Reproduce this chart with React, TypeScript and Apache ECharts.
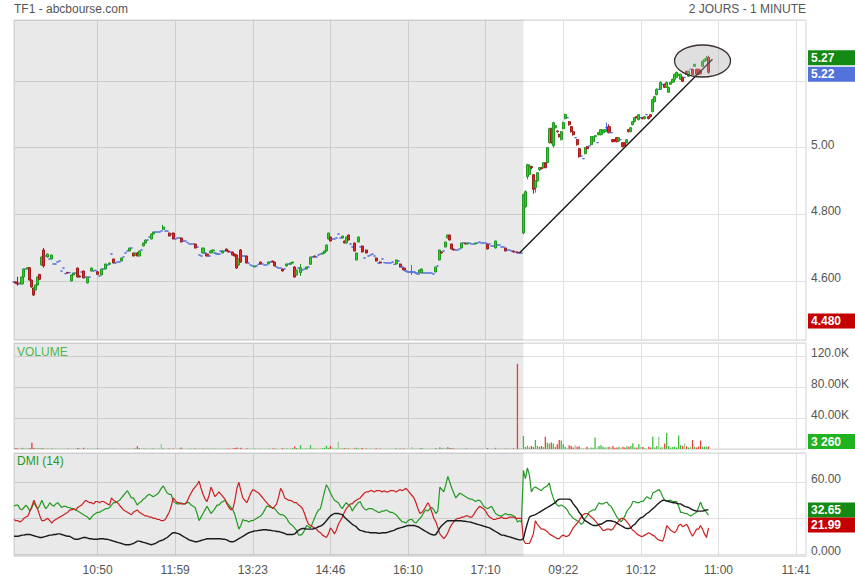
import React, { useEffect, useRef } from 'react';
import * as echarts from 'echarts';

// ---------- DATA ----------
// Candles: [open, close, low, high], one per minute bar. Day 1 = index 0..255, day 2 = 256..349
const day1Candles: number[][] = [
  // 0-9
  [4.597,4.597,4.597,4.597],[4.597,4.594,4.592,4.598],[4.594,4.591,4.586,4.613],[4.592,4.592,4.592,4.592],[4.591,4.612,4.590,4.613],
  [4.612,4.636,4.611,4.637],[4.636,4.636,4.636,4.636],[4.636,4.640,4.635,4.641],[4.640,4.603,4.602,4.641],[4.603,4.582,4.580,4.604],
  // 10-19
  [4.579,4.558,4.555,4.580],[4.573,4.588,4.572,4.589],[4.588,4.612,4.587,4.613],[4.620,4.605,4.604,4.621],[4.648,4.672,4.647,4.673],
  [4.693,4.645,4.640,4.699],[4.675,4.675,4.675,4.675],[4.672,4.681,4.671,4.682],[4.666,4.666,4.666,4.666],[4.666,4.678,4.665,4.679],
  // 20-29
  [4.651,4.651,4.651,4.651],[4.651,4.651,4.651,4.651],[4.657,4.657,4.657,4.657],[4.660,4.660,4.660,4.660],[4.630,4.630,4.630,4.630],
  [4.639,4.639,4.639,4.639],[4.622,4.622,4.622,4.622],[4.626,4.624,4.622,4.627],[4.625,4.625,4.625,4.625],[4.600,4.618,4.599,4.619],
  // 30-39
  [4.618,4.624,4.617,4.625],[4.624,4.624,4.624,4.624],[4.639,4.612,4.611,4.640],[4.615,4.612,4.611,4.616],[4.627,4.627,4.627,4.627],
  [4.630,4.609,4.608,4.631],[4.612,4.612,4.612,4.612],[4.594,4.612,4.593,4.613],[4.612,4.612,4.612,4.612],[4.630,4.639,4.629,4.640],
  // 40-49
  [4.630,4.630,4.630,4.630],[4.632,4.632,4.632,4.632],[4.628,4.620,4.619,4.629],[4.615,4.615,4.615,4.615],[4.618,4.636,4.617,4.637],
  [4.636,4.636,4.636,4.636],[4.636,4.651,4.635,4.652],[4.648,4.648,4.648,4.648],[4.650,4.654,4.649,4.655],[4.681,4.681,4.681,4.681],
  // 50-59
  [4.666,4.654,4.653,4.667],[4.654,4.654,4.654,4.654],[4.657,4.657,4.657,4.657],[4.657,4.657,4.657,4.657],[4.660,4.669,4.659,4.670],
  [4.672,4.672,4.672,4.672],[4.684,4.684,4.684,4.684],[4.690,4.690,4.690,4.690],[4.690,4.699,4.689,4.700],[4.699,4.699,4.699,4.699],
  // 60-69
  [4.684,4.675,4.674,4.685],[4.678,4.684,4.677,4.685],[4.684,4.675,4.674,4.687],[4.675,4.690,4.674,4.691],[4.693,4.693,4.693,4.693],
  [4.705,4.714,4.704,4.715],[4.714,4.723,4.713,4.724],[4.723,4.723,4.723,4.723],[4.732,4.732,4.732,4.732],[4.726,4.741,4.725,4.742],
  // 70-79
  [4.741,4.747,4.740,4.748],[4.747,4.747,4.747,4.747],[4.747,4.747,4.747,4.747],[4.747,4.747,4.747,4.747],[4.750,4.750,4.750,4.750],
  [4.755,4.762,4.754,4.768],[4.750,4.750,4.750,4.750],[4.750,4.750,4.750,4.750],[4.744,4.735,4.734,4.745],[4.741,4.741,4.741,4.741],
  // 80-89
  [4.744,4.726,4.725,4.745],[4.726,4.726,4.726,4.726],[4.729,4.729,4.729,4.729],[4.729,4.729,4.729,4.729],[4.729,4.717,4.716,4.730],
  [4.720,4.720,4.720,4.720],[4.720,4.720,4.720,4.720],[4.715,4.715,4.715,4.715],[4.711,4.711,4.711,4.711],[4.711,4.711,4.711,4.711],
  // 90-99
  [4.711,4.711,4.711,4.711],[4.711,4.699,4.698,4.712],[4.702,4.702,4.702,4.702],[4.678,4.678,4.678,4.678],[4.675,4.675,4.675,4.675],
  [4.684,4.699,4.683,4.700],[4.684,4.684,4.684,4.684],[4.681,4.675,4.674,4.682],[4.675,4.675,4.675,4.675],[4.684,4.690,4.683,4.691],
  // 100-109
  [4.690,4.693,4.689,4.694],[4.684,4.684,4.684,4.684],[4.681,4.681,4.681,4.681],[4.681,4.681,4.681,4.681],[4.690,4.690,4.690,4.690],
  [4.684,4.690,4.683,4.691],[4.690,4.690,4.690,4.690],[4.696,4.690,4.689,4.697],[4.690,4.687,4.686,4.691],[4.687,4.687,4.687,4.687],
  // 110-119
  [4.687,4.678,4.677,4.688],[4.681,4.675,4.674,4.682],[4.678,4.639,4.636,4.680],[4.648,4.666,4.645,4.667],[4.693,4.657,4.654,4.696],
  [4.675,4.675,4.675,4.675],[4.675,4.675,4.675,4.675],[4.675,4.654,4.653,4.676],[4.654,4.654,4.654,4.654],[4.648,4.648,4.648,4.648],
  // 120-129
  [4.645,4.645,4.645,4.645],[4.642,4.645,4.641,4.646],[4.645,4.645,4.645,4.645],[4.650,4.650,4.650,4.650],[4.657,4.651,4.650,4.658],
  [4.651,4.651,4.651,4.651],[4.648,4.648,4.648,4.648],[4.648,4.648,4.648,4.648],[4.651,4.657,4.650,4.658],[4.657,4.657,4.657,4.657],
  // 130-139
  [4.660,4.657,4.656,4.661],[4.657,4.645,4.644,4.658],[4.642,4.642,4.642,4.642],[4.639,4.639,4.639,4.639],[4.639,4.639,4.639,4.639],
  [4.636,4.630,4.629,4.637],[4.636,4.636,4.636,4.636],[4.645,4.651,4.644,4.652],[4.651,4.651,4.651,4.651],[4.650,4.654,4.649,4.655],
  // 140-149
  [4.654,4.657,4.653,4.658],[4.642,4.612,4.610,4.645],[4.618,4.633,4.617,4.634],[4.639,4.639,4.639,4.639],[4.625,4.640,4.615,4.651],
  [4.633,4.633,4.633,4.633],[4.636,4.636,4.636,4.636],[4.636,4.642,4.635,4.643],[4.642,4.642,4.642,4.642],[4.650,4.672,4.649,4.673],
  // 150-159
  [4.672,4.672,4.672,4.672],[4.675,4.672,4.671,4.676],[4.672,4.672,4.672,4.672],[4.678,4.678,4.678,4.678],[4.681,4.681,4.681,4.681],
  [4.681,4.684,4.680,4.685],[4.684,4.690,4.683,4.691],[4.690,4.708,4.689,4.709],[4.726,4.744,4.725,4.745],[4.732,4.720,4.719,4.733],
  // 160-169
  [4.726,4.726,4.726,4.726],[4.726,4.726,4.726,4.726],[4.729,4.729,4.729,4.729],[4.741,4.741,4.741,4.741],[4.729,4.729,4.729,4.729],
  [4.729,4.735,4.728,4.736],[4.720,4.714,4.713,4.721],[4.714,4.732,4.713,4.733],[4.738,4.723,4.722,4.739],[4.711,4.711,4.711,4.711],
  // 170-179
  [4.702,4.702,4.702,4.702],[4.714,4.690,4.689,4.715],[4.663,4.684,4.662,4.685],[4.717,4.732,4.716,4.733],[4.702,4.702,4.702,4.702],
  [4.705,4.687,4.686,4.706],[4.669,4.669,4.669,4.669],[4.693,4.684,4.683,4.694],[4.675,4.675,4.675,4.675],[4.678,4.678,4.678,4.678],
  // 180-189
  [4.681,4.681,4.681,4.681],[4.675,4.675,4.675,4.675],[4.669,4.660,4.659,4.670],[4.654,4.654,4.654,4.654],[4.657,4.654,4.653,4.658],
  [4.666,4.666,4.666,4.666],[4.655,4.655,4.655,4.655],[4.654,4.654,4.654,4.654],[4.654,4.654,4.654,4.654],[4.654,4.654,4.654,4.654],
  // 190-199
  [4.657,4.657,4.657,4.657],[4.650,4.650,4.650,4.650],[4.651,4.663,4.650,4.664],[4.660,4.660,4.660,4.660],[4.651,4.642,4.641,4.652],
  [4.642,4.642,4.642,4.642],[4.639,4.633,4.632,4.640],[4.630,4.630,4.630,4.630],[4.627,4.627,4.627,4.627],[4.627,4.627,4.627,4.627],
  // 200-209
  [4.627,4.627,4.618,4.648],[4.627,4.627,4.627,4.627],[4.624,4.624,4.624,4.624],[4.621,4.621,4.621,4.621],[4.624,4.633,4.623,4.634],
  [4.624,4.636,4.623,4.637],[4.624,4.624,4.624,4.624],[4.624,4.624,4.624,4.624],[4.624,4.624,4.624,4.624],[4.624,4.624,4.624,4.624],
  // 210-219
  [4.624,4.624,4.624,4.624],[4.621,4.621,4.621,4.621],[4.627,4.642,4.626,4.643],[4.645,4.645,4.645,4.645],[4.663,4.693,4.662,4.694],
  [4.687,4.684,4.683,4.688],[4.690,4.690,4.690,4.690],[4.702,4.717,4.701,4.718],[4.729,4.738,4.728,4.739],[4.738,4.723,4.722,4.739],
  // 220-229
  [4.711,4.696,4.695,4.712],[4.696,4.693,4.692,4.697],[4.693,4.693,4.693,4.693],[4.693,4.693,4.693,4.693],[4.696,4.696,4.696,4.696],
  [4.699,4.714,4.698,4.715],[4.714,4.714,4.714,4.714],[4.714,4.711,4.710,4.715],[4.711,4.714,4.710,4.715],[4.714,4.714,4.714,4.714],
  // 230-239
  [4.711,4.711,4.711,4.711],[4.711,4.711,4.711,4.711],[4.711,4.714,4.710,4.715],[4.714,4.714,4.714,4.714],[4.717,4.717,4.717,4.717],
  [4.714,4.714,4.714,4.714],[4.714,4.714,4.714,4.714],[4.714,4.714,4.714,4.714],[4.711,4.696,4.695,4.712],[4.711,4.711,4.711,4.711],
  // 240-249
  [4.705,4.705,4.705,4.705],[4.705,4.705,4.705,4.705],[4.699,4.720,4.698,4.721],[4.708,4.708,4.708,4.708],[4.708,4.708,4.708,4.708],
  [4.702,4.702,4.702,4.702],[4.702,4.702,4.702,4.702],[4.699,4.690,4.689,4.700],[4.693,4.693,4.693,4.693],[4.693,4.693,4.693,4.693],
  // 250-255
  [4.690,4.690,4.690,4.690],[4.690,4.687,4.686,4.691],[4.687,4.687,4.687,4.687],[4.687,4.684,4.683,4.688],[4.684,4.684,4.684,4.684],
  [4.684,4.684,4.684,4.684],
];

const day2Candles: number[][] = [
  // 256-265
  [4.744,4.859,4.740,4.862],[4.823,4.868,4.820,4.872],[4.913,4.949,4.905,4.952],[4.920,4.945,4.918,4.950],[4.943,4.940,4.935,4.946],
  [4.919,4.875,4.862,4.920],[4.880,4.900,4.865,4.902],[4.900,4.925,4.898,4.927],[4.934,4.940,4.930,4.942],[4.940,4.937,4.934,4.942],
  // 266-275
  [4.940,4.955,4.938,4.957],[4.955,4.940,4.938,4.957],[4.955,5.000,4.953,5.002],[5.015,5.057,5.012,5.060],[5.057,5.015,5.012,5.060],
  [5.006,5.075,5.000,5.078],[5.060,5.066,5.058,5.068],[5.050,5.048,5.045,5.052],[5.040,5.033,5.030,5.042],[5.024,5.048,5.022,5.050],
  // 276-285
  [5.057,5.075,5.055,5.078],[5.087,5.099,5.085,5.102],[5.090,5.090,5.090,5.090],[5.078,5.069,5.066,5.080],[5.063,5.048,5.045,5.065],
  [5.048,5.039,5.036,5.050],[5.030,5.030,5.030,5.030],[5.024,5.009,5.006,5.026],[4.997,4.973,4.970,4.999],[4.975,4.975,4.975,4.975],
  // 286-295
  [4.967,4.967,4.967,4.967],[4.982,5.000,4.980,5.002],[5.003,4.997,4.995,5.005],[5.005,5.005,5.005,5.005],[5.009,5.033,5.007,5.035],
  [5.018,5.033,5.016,5.035],[5.033,5.036,5.031,5.038],[5.015,5.015,5.015,5.015],[5.039,5.045,5.037,5.047],[5.039,5.054,5.037,5.056],
  // 296-305
  [5.045,5.051,5.043,5.053],[5.048,5.054,5.046,5.056],[5.060,5.060,5.052,5.075],[5.063,5.045,5.043,5.070],[5.045,5.045,5.045,5.045],
  [5.024,5.018,5.016,5.026],[5.024,5.020,5.018,5.026],[5.030,5.018,5.016,5.032],[5.020,5.030,5.018,5.032],[5.024,5.024,5.024,5.024],
  // 306-315
  [5.015,5.003,5.001,5.017],[5.015,5.006,5.004,5.017],[5.015,5.024,5.013,5.026],[5.054,5.048,5.046,5.056],[5.048,5.060,5.046,5.062],
  [5.069,5.078,5.067,5.080],[5.078,5.090,5.076,5.092],[5.093,5.090,5.088,5.095],[5.084,5.099,5.082,5.101],[5.090,5.090,5.090,5.090],
  // 316-325
  [5.090,5.087,5.085,5.092],[5.087,5.093,5.085,5.095],[5.099,5.099,5.099,5.099],[5.093,5.087,5.085,5.095],[5.099,5.093,5.091,5.101],
  [5.108,5.144,5.106,5.147],[5.138,5.153,5.136,5.156],[5.159,5.175,5.157,5.178],[5.175,5.175,5.175,5.175],[5.175,5.196,5.173,5.199],
  // 326-335
  [5.190,5.190,5.190,5.190],[5.190,5.181,5.179,5.192],[5.181,5.196,5.179,5.198],[5.166,5.181,5.164,5.183],[5.190,5.196,5.188,5.198],
  [5.196,5.205,5.194,5.207],[5.205,5.220,5.196,5.222],[5.211,5.226,5.209,5.228],[5.217,5.220,5.215,5.222],[5.205,5.220,5.203,5.222],
  // 336-345
  [5.211,5.199,5.197,5.213],[5.211,5.211,5.211,5.211],[5.229,5.220,5.218,5.231],[5.214,5.229,5.212,5.231],[5.235,5.235,5.235,5.235],
  [5.235,5.220,5.218,5.237],[5.244,5.250,5.242,5.252],[5.235,5.220,5.218,5.237],[5.235,5.220,5.218,5.237],[5.232,5.222,5.220,5.234],
  // 346-349
  [5.244,5.259,5.242,5.261],[5.259,5.265,5.257,5.267],[5.262,5.268,5.260,5.275],[5.271,5.226,5.222,5.276],
];

const volumesDay1: number[] = [
  900, 1200, 600, 400, 1500, 800, 500, 700, 1100, 8000, 1400, 600, 900, 500, 1200, 700,
  400, 600, 300, 900, 500, 1700, 400, 300, 800, 600, 200, 500, 700, 400, 300, 600,
  1300, 500, 400, 1600, 300, 500, 700, 400, 600, 300, 1000, 500, 400, 700, 300, 500,
  300, 800, 400, 600, 300, 400, 500, 300, 700, 400, 600, 300, 500, 800, 3500, 1200,
  900, 600, 800, 500, 700, 400, 900, 600, 500, 1100, 6500, 900, 400, 600, 500, 700,
  500, 400, 700, 900, 2000, 500, 400, 300, 600, 1400, 500, 700, 400, 600, 300, 800,
  500, 400, 700, 300, 600, 900, 500, 400, 600, 300, 500, 400, 800, 300, 500, 1200,
  1800, 700, 1500, 500, 400, 900, 300, 600, 400, 500, 300, 700, 400, 600, 500, 300,
  800, 400, 500, 700, 400, 300, 600, 1000, 400, 700, 500, 400, 900, 3200, 1300, 700,
  5000, 1200, 800, 600, 700, 5000, 900, 500, 600, 400, 700, 900, 1500, 4000, 1400, 3800,
  2000, 800, 1200, 9000, 1100, 700, 900, 600, 800, 500, 400, 700, 1600, 900, 500, 1200,
  600, 800, 400, 500, 700, 400, 900, 300, 600, 500, 400, 300, 500, 400, 300, 600,
  900, 400, 700, 500, 600, 400, 500, 300, 2500, 600, 400, 500, 900, 1400, 500, 400,
  600, 400, 300, 500, 1200, 700, 2200, 900, 1500, 800, 2500, 1200, 900, 600, 800, 500,
  700, 400, 600, 500, 300, 400, 500, 600, 400, 300, 500, 400, 300, 500, 1300, 400,
  600, 500, 1600, 800, 500, 700, 400, 600, 1000, 500, 400, 800, 600, 110000, 900, 700,
];

const volumesDay2: number[] = [
  16800, 2500, 4000, 2000, 4000, 2500, 11600, 4000, 3000, 4000,
  2500, 15900, 8000, 7000, 8500, 7000, 2500, 6000, 11600, 11000,
  6000, 3000, 1500, 5000, 4000, 2000, 5000, 3000, 3500, 1000,
  1200, 800, 3000, 1500, 2000, 1500, 15000, 2000, 4000, 5000,
  3000, 2000, 2500, 3000, 2000, 4000, 1500, 2000, 3000, 1500,
  3000, 2000, 3500, 3000, 4000, 7500, 2000, 2000, 6000, 3000,
  2500, 1000, 800, 3000, 2000, 15900, 2000, 4000, 15900, 2000,
  3000, 7000, 20600, 4000, 2000, 2500, 3000, 2000, 17500, 5000,
  4000, 7000, 3500, 2000, 3000, 11600, 3000, 2000, 3000, 11000,
  3000, 3000, 3000, 3260,
];

// DMI (14): +DI (green), -DI (red), ADX (black)
const plusDI: number[] = [
  40, 41, 41, 38, 37, 39, 41, 39, 36, 39,
  43, 40, 38, 41, 45, 41, 38, 40, 43, 41,
  40, 42, 43, 41, 39, 40, 40, 39, 39, 38,
  38, 37, 36, 35, 34, 33, 32, 31, 29, 31,
  33, 34, 35, 35, 36, 37, 38, 38, 39, 41,
  43, 43, 44, 45, 47, 49, 51, 53, 50, 47,
  47, 44, 41, 43, 44, 46, 47, 49, 50, 49,
  48, 49, 50, 52, 55, 57, 54, 51, 50, 50,
  44, 43, 42, 42, 43, 42, 42, 43, 43, 41,
  40, 39, 34, 28, 31, 34, 37, 40, 37, 34,
  36, 38, 41, 41, 43, 44, 45, 43, 41, 39,
  37, 33, 27, 21, 24, 29, 28, 28, 27, 28,
  28, 29, 30, 31, 32, 34, 37, 40, 40, 39,
  39, 38, 36, 34, 33, 33, 32, 30, 27, 25,
  24, 22, 20, 16, 16, 17, 20, 24, 23, 22,
  26, 30, 34, 37, 38, 45, 52, 58, 55, 51,
  48, 45, 44, 43, 40, 38, 41, 43, 41, 40,
  36, 39, 41, 43, 44, 40, 38, 37, 38, 38,
  38, 37, 36, 35, 35, 36, 36, 37, 36, 35,
  35, 34, 33, 31, 29, 27, 27, 26, 28, 29,
  29, 27, 26, 28, 30, 32, 35, 37, 36, 38,
  39, 37, 34, 36, 56, 54, 52, 58, 65, 60,
  55, 51, 47, 49, 51, 50, 49, 48, 47, 46,
  46, 45, 44, 45, 45, 43, 40, 39, 38, 39,
  40, 37, 34, 33, 32, 32, 33, 34, 33, 33,
  33, 32, 31, 27, 28, 27,
  70, 63, 72, 66, 52, 55, 56, 55, 54, 53,
  55, 56, 57, 59.5, 52, 47, 43, 41, 40, 41,
  40, 39, 37, 34, 32, 30, 29, 28, 27, 25,
  26, 30, 32, 35, 36, 37, 37, 40, 43, 42,
  42, 43, 43.6, 41, 40, 37, 34, 31, 29, 27,
  29, 32, 36, 38, 40, 44, 44, 43, 43, 44,
  44, 46, 48, 47, 46, 51, 52, 53, 54, 52,
  48, 45, 44, 45, 45, 44, 44, 44, 40, 35,
  35, 34, 34, 33, 32, 33, 34, 35, 39, 43.6,
  39, 37, 35, 32.65,
];

const minusDI: number[] = [
  29, 28, 28, 27, 28, 30, 31, 32, 36, 40,
  45, 41, 37, 32, 28, 28, 29, 30, 28, 26,
  28, 29, 30, 31, 32, 33, 34, 35, 37, 37,
  38, 37, 39, 40, 41, 43, 45, 44, 43, 43,
  42, 44, 44, 43, 44, 44, 43, 42, 41, 47,
  45, 44, 43, 41, 39, 37, 36, 35, 34, 33,
  35, 36, 37, 35, 34, 33, 32, 32, 31, 31,
  30, 30, 29, 29, 28, 28, 29, 32, 35, 40,
  47, 45, 43, 43, 42, 42, 42, 44, 48, 51,
  54, 56, 58, 61, 55, 50, 46, 44, 49, 56,
  52, 48, 50, 52, 50, 48, 46, 42, 39, 37,
  38, 45, 55, 60, 53, 47, 45, 43, 47, 51,
  54, 53, 52, 51, 49, 47, 45, 43, 41, 40,
  38, 40, 42, 48, 55, 52, 47, 46, 45, 45,
  44, 43, 43, 41, 40, 38, 34, 29, 25, 24,
  23, 22, 21, 19, 18, 16, 15, 14, 17, 22,
  20, 17, 20, 25, 28, 31, 35, 38, 40, 42,
  42, 44, 45, 46, 47, 49, 51, 52, 52, 53,
  53, 52, 53, 53, 53, 52, 53, 52, 52, 53,
  53, 53, 52, 53, 54, 53, 54, 55, 53, 51,
  49, 47, 43, 38, 34, 35, 37, 40, 43, 40,
  35, 30, 27, 22, 17, 15, 13, 15, 18, 22,
  25, 27, 29, 30, 30, 31, 31, 32, 32, 31,
  31, 33, 36, 38, 40, 39, 38, 36, 33, 31,
  30, 29, 29, 30, 30, 31, 30, 30, 30, 31,
  31, 31, 30, 30, 30, 30,
  12, 9, 9, 9, 13, 17, 28, 25, 23, 21,
  21, 20, 19, 17, 16, 15, 14, 13, 13, 15,
  16, 15, 15, 16, 19, 22, 24, 26, 28, 31,
  33, 34, 34, 33, 31, 30, 28, 26, 24, 22,
  20, 20, 21, 21, 20, 21, 24, 26, 28, 30,
  30, 29, 27, 25, 22, 20, 19, 17, 16, 15,
  15, 16, 17, 18, 17, 16, 15, 13, 12, 11.4,
  11, 16, 24, 22, 20, 19, 18, 20, 24, 25,
  23, 24, 25, 22, 18, 15, 18, 21, 21, 24,
  21, 17, 14, 21.99,
];

const adx: number[] = [
  15, 15, 15, 15.5, 16, 16, 16.5, 16.5, 16.5, 16,
  15.5, 15, 14.5, 14, 14, 14.5, 15, 15.5, 16, 16,
  16.5, 16.5, 17, 17, 16.5, 16, 15.5, 15, 15, 14,
  13, 12.5, 12.5, 13, 13.5, 14, 14, 13.5, 13, 13,
  12.5, 12.5, 12.5, 13, 13, 13, 12.5, 12.5, 12, 11.5,
  11, 10.5, 10, 9.5, 9, 8.5, 8, 8, 8, 8.5,
  9, 10, 11, 11, 10.5, 10, 9.5, 9, 8.5, 8,
  8.5, 9, 10, 11, 11.5, 12, 13, 14, 15.5, 17,
  18, 18, 17.5, 17, 16, 15, 14, 13, 12, 11.5,
  11, 10.5, 10.5, 11, 11.5, 12, 12.5, 13, 13, 13,
  13, 13, 13, 13, 13, 12.5, 12.5, 12, 11, 10.5,
  10.5, 11, 12, 13, 14, 15, 16, 17, 18, 18.5,
  19, 19.5, 19.5, 20, 20, 20.5, 20.5, 20.5, 20, 20,
  19.5, 19.5, 19, 19, 18.5, 18, 17.5, 16.5, 16.5, 16.5,
  16.5, 17, 18.5, 20, 21, 21.5, 21.5, 21, 21, 21,
  21, 21.5, 22, 23, 23.5, 24.5, 26, 28, 30, 32,
  33, 34, 34, 34, 33.5, 33, 31, 29.5, 28, 26.5,
  25, 24, 23, 21, 20, 19.5, 19, 18.5, 18.5, 18,
  18, 18, 18, 17.5, 17.5, 18, 18, 18, 18.5, 19,
  19.5, 20, 21, 21.5, 22, 22.5, 23, 23.5, 24, 24,
  24, 24, 23.5, 23, 22, 21, 20, 19, 18, 17,
  16.5, 16, 16.5, 19, 22, 24, 25.5, 27, 28, 28,
  28, 28, 28, 28, 28, 28, 27.5, 27.5, 27, 27,
  26.5, 26, 25.5, 25, 24.5, 24, 23.5, 23, 22.5, 22,
  21, 20, 19, 18, 17, 16, 16, 15.5, 15, 14.5,
  14, 13.5, 13, 12.5, 12, 12,
  13, 20, 26, 31, 32, 32.5, 33, 34, 35, 36,
  37, 38, 39, 40, 41, 42, 43, 45, 46, 46,
  46, 46, 46, 46, 45, 42, 40, 38, 35, 33,
  30, 28, 27, 26, 25, 24, 24, 24, 25, 25,
  26, 27, 28, 28, 28, 27.5, 27, 26, 25, 24,
  23, 22, 21.5, 21.5, 22, 24, 25, 27, 29, 30.5,
  31, 32.5, 34, 35, 36.5, 38, 39.5, 41, 42.5, 44,
  45, 45, 44.5, 44, 43.5, 43, 43, 42.5, 42, 42,
  41, 40, 39.5, 39, 38, 37, 36.5, 36, 36, 36,
  36, 36.5, 37, 37,
];

const CATEGORY_COUNT = 399; // minute slots shown on the x axis (including empty future slots)
const DAY2_START = 256;
const tickIndices = [42, 81, 120, 159, 198, 237, 276, 315, 354, 393];
const tickLabels = ['10:50', '11:59', '13:23', '14:46', '16:10', '17:10', '09:22', '10:12', '11:00', '11:41'];

const trendStart: [string, number] = ['254', 4.684];
const trendEnd: [string, number] = ['351', 5.265];
const highlightCenter: [string, number] = ['346', 5.26];

const priceTags = [
  { value: 5.27, text: '5.27', color: '#138a13' },
  { value: 5.22, text: '5.22', color: '#5272dc' },
  { value: 4.48, text: '4.480', color: '#c40000' },
];
const volumeTag = { value: 3260, text: '3 260', color: '#1fb41f' };
const dmiTags = [
  { value: 32.65, text: '32.65', color: '#138a13' },
  { value: 21.99, text: '21.99', color: '#c40000' },
];

// ---------- CHART ----------
const FONT = '"Liberation Sans", Arial, sans-serif';
const UP = '#33cc33', UP_B = '#1f9a1f', DOWN = '#e02828', DOWN_B = '#a31a1a', DOJI = '#4a68e0';

export default function App() {
  const ref = useRef<HTMLDivElement>(null);

  useEffect(() => {
    document.body.style.margin = '0';
    if (!ref.current) return;
    const chart = echarts.init(ref.current, null, { renderer: 'svg' });

    const categories = Array.from({ length: CATEGORY_COUNT }, (_, i) => String(i));
    const candles = day1Candles.concat(day2Candles);
    const volumes = volumesDay1.concat(volumesDay2);

    const candleData = candles.map((c) =>
      c[0] === c[1]
        ? { value: c, itemStyle: { color: DOJI, color0: DOJI, borderColor: DOJI, borderColor0: DOJI, borderColorDoji: DOJI } }
        : { value: c }
    );
    const volumeData = volumes.map((v, i) => {
      const c = candles[i];
      const col = c[1] > c[0] ? '#3cbf3c' : c[1] < c[0] ? '#f03c3c' : '#8fd08f';
      return { value: v, itemStyle: { color: col } };
    });

    const isTick = (idx: number) => tickIndices.indexOf(idx) >= 0;
    const gridBase = { left: 14, right: 49, show: true, borderColor: '#d2d2d2', borderWidth: 1, backgroundColor: '#ffffff', containLabel: false, outerBoundsMode: 'none' };
    const splitLineStyle = { color: '#e0e0e0', width: 1 };
    const grayArea = () => ({
      silent: true,
      label: { show: false },
      itemStyle: { color: 'rgba(0,0,0,0.085)' },
      data: [[{ xAxis: '0' }, { xAxis: String(DAY2_START) }]],
    });

    const xAxisBase = (gi: number, showLabel: boolean) => ({
      type: 'category',
      gridIndex: gi,
      data: categories,
      boundaryGap: false,
      axisLine: { show: false },
      axisTick: { show: false },
      splitLine: { show: true, interval: (idx: number) => isTick(idx), lineStyle: splitLineStyle },
      axisLabel: {
        show: showLabel,
        interval: (idx: number) => isTick(idx),
        formatter: (v: string) => {
          const k = tickIndices.indexOf(Number(v));
          return k >= 0 ? tickLabels[k] : '';
        },
        color: '#555',
        fontSize: 12,
        fontFamily: FONT,
        margin: 8,
      },
    });

    const yLabelBase = { color: '#555', fontSize: 12, fontFamily: FONT, margin: 5, verticalAlign: 'bottom', lineHeight: 6 };

    const option: any = {
      animation: false,
      textStyle: { fontFamily: FONT },
      grid: [
        { ...gridBase, top: 20, height: 320 },
        { ...gridBase, top: 343, height: 106 },
        { ...gridBase, top: 453, height: 103 },
      ],
      xAxis: [xAxisBase(0, false), xAxisBase(1, false), xAxisBase(2, true)],
      yAxis: [
        {
          type: 'value', gridIndex: 0, position: 'right', min: 4.423, max: 5.383,
          splitNumber: 5, minInterval: 0.2, maxInterval: 0.2,
          axisLine: { show: false }, axisTick: { show: false },
          splitLine: { show: true, lineStyle: splitLineStyle },
          axisLabel: {
            ...yLabelBase, showMinLabel: false, showMaxLabel: false,
            formatter: (v: number) => (Math.abs(v - 5.2) < 1e-6 ? '' : v >= 4.9995 ? v.toFixed(2) : v.toFixed(3)),
          },
        },
        {
          type: 'value', gridIndex: 1, position: 'right', min: 0, max: 136800,
          splitNumber: 3, minInterval: 40000, maxInterval: 40000,
          axisLine: { show: false }, axisTick: { show: false },
          splitLine: { show: true, lineStyle: splitLineStyle },
          axisLabel: {
            ...yLabelBase, showMinLabel: false, showMaxLabel: false,
            formatter: (v: number) => {
              if (v <= 0) return '';
              const k = v / 1000;
              return (k >= 100 ? k.toFixed(1) : k.toFixed(2)) + 'K';
            },
          },
        },
        {
          type: 'value', gridIndex: 2, position: 'right', min: -1.4, max: 84.4,
          splitNumber: 3, minInterval: 30, maxInterval: 30,
          axisLine: { show: false }, axisTick: { show: false },
          splitLine: { show: true, lineStyle: splitLineStyle },
          axisLabel: {
            ...yLabelBase, showMinLabel: false, showMaxLabel: false,
            formatter: (v: number) => (Math.abs(v - 30) < 1e-6 ? '' : Math.abs(v) < 1e-6 ? '0.000' : v.toFixed(2)),
          },
        },
      ],
      series: [
        {
          type: 'candlestick',
          xAxisIndex: 0, yAxisIndex: 0,
          data: candleData,
          barWidth: 2.6,
          itemStyle: { color: UP, color0: DOWN, borderColor: UP_B, borderColor0: DOWN_B, borderColorDoji: DOJI, borderWidth: 1 },
          markArea: grayArea(),
          markLine: {
            silent: true,
            symbol: ['none', 'none'],
            label: { show: false },
            lineStyle: { color: '#111', width: 1.3, type: 'solid' },
            data: [[{ coord: trendStart }, { coord: trendEnd }]],
          },
        },
        {
          // invisible carrier of the day-1 shading in the volume panel
          type: 'line', xAxisIndex: 1, yAxisIndex: 1, data: volumes, showSymbol: false, silent: true,
          lineStyle: { opacity: 0, width: 0 }, itemStyle: { opacity: 0 },
          markArea: grayArea(),
        },
        {
          type: 'bar',
          xAxisIndex: 1, yAxisIndex: 1,
          data: volumeData,
          barWidth: 1.3,
          z: 3,
        },
        {
          type: 'line', xAxisIndex: 2, yAxisIndex: 2, data: plusDI, showSymbol: false,
          lineStyle: { color: '#239a23', width: 1.2 }, itemStyle: { color: '#239a23' },
          markArea: grayArea(),
        },
        {
          type: 'line', xAxisIndex: 2, yAxisIndex: 2, data: minusDI, showSymbol: false,
          lineStyle: { color: '#cc2020', width: 1.2 }, itemStyle: { color: '#cc2020' },
        },
        {
          type: 'line', xAxisIndex: 2, yAxisIndex: 2, data: adx, showSymbol: false,
          lineStyle: { color: '#1a1a1a', width: 1.4 }, itemStyle: { color: '#1a1a1a' },
        },
      ],
    };

    chart.setOption(option);

    // Annotations placed through the axes' own scales
    const yPix = (axis: number, v: number) => chart.convertToPixel({ yAxisIndex: axis } as any, v) as unknown as number;
    const TAG_X = 808, TAG_W = 47, TAG_H = 15;
    const tag = (y: number, text: string, color: string) => ({
      type: 'group',
      z: 100,
      children: [
        { type: 'rect', shape: { x: TAG_X, y: y - TAG_H / 2, width: TAG_W, height: TAG_H }, style: { fill: color } },
        {
          type: 'text', x: TAG_X + 3, y,
          style: { text, fill: '#fff', font: `bold 12px ${FONT}`, verticalAlign: 'middle', textVerticalAlign: 'middle' },
        },
      ],
    });

    const graphics: any[] = [];
    priceTags.forEach((t) => graphics.push(tag(yPix(0, t.value), t.text, t.color)));
    const volBottom = yPix(1, 0);
    graphics.push(tag(Math.min(yPix(1, volumeTag.value), volBottom - TAG_H / 2), volumeTag.text, volumeTag.color));
    const dUpper = yPix(2, dmiTags[0].value);
    const dLower = yPix(2, dmiTags[1].value);
    const lowerY = dLower - 3;
    const upperY = Math.min(dUpper, lowerY - TAG_H);
    graphics.push(tag(upperY, dmiTags[0].text, dmiTags[0].color));
    graphics.push(tag(lowerY, dmiTags[1].text, dmiTags[1].color));

    const center = chart.convertToPixel({ gridIndex: 0 } as any, highlightCenter as any) as unknown as number[];
    graphics.push({
      type: 'ellipse', z: 90,
      shape: { cx: center[0], cy: center[1], rx: 28, ry: 16 },
      style: { fill: 'rgba(170,170,170,0.38)', stroke: '#3a2f2f', lineWidth: 1.3 },
    });

    graphics.push(
      { type: 'text', left: 14, top: 3, style: { text: 'TF1 - abcbourse.com', fill: '#555', font: `12px ${FONT}` } },
      { type: 'text', right: 49, top: 3, style: { text: '2 JOURS - 1 MINUTE', fill: '#555', font: `12px ${FONT}` } },
      { type: 'text', left: 17, top: 346, z: 100, style: { text: 'VOLUME', fill: '#4cb84c', font: `12px ${FONT}` } },
      { type: 'text', left: 17, top: 455, z: 100, style: { text: 'DMI (14)', fill: '#239a23', font: `12px ${FONT}` } }
    );

    chart.setOption({ graphic: graphics });

    return () => chart.dispose();
  }, []);

  return <div ref={ref} style={{ width: 855, height: 580 }} />;
}
